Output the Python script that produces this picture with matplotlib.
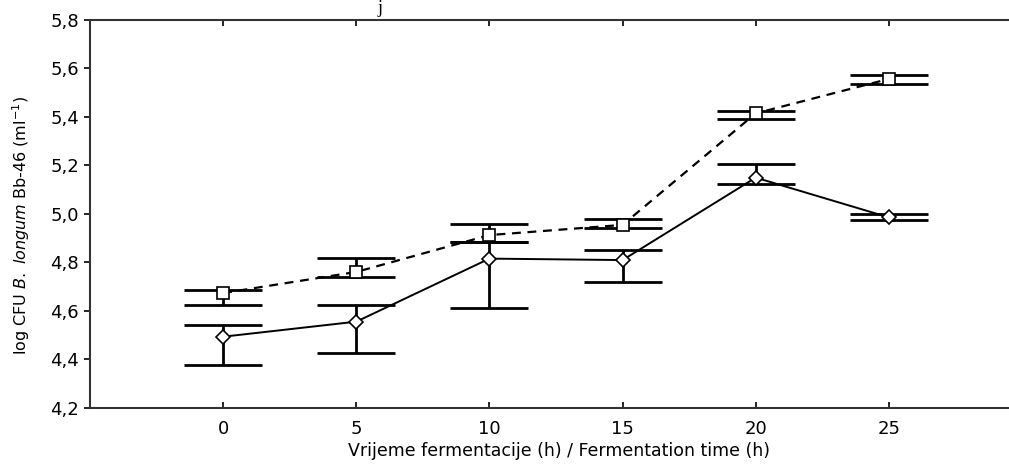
import matplotlib
matplotlib.use('Agg')
import matplotlib.pyplot as plt
import numpy as np

# data
time_h = [0, 5, 10, 15, 20, 25]

# dashed series, open squares
sq_mean = [4.674, 4.761, 4.913, 4.955, 5.415, 5.557]
sq_upper = [4.688, 4.817, 4.960, 4.978, 5.426, 5.572]
sq_lower = [4.625, 4.739, 4.886, 4.944, 5.390, 5.537]

# solid series, open diamonds
dm_mean = [4.494, 4.556, 4.816, 4.810, 5.150, 4.986]
dm_upper = [4.541, 4.623, 4.886, 4.852, 5.205, 5.000]
dm_lower = [4.377, 4.428, 4.611, 4.721, 5.122, 4.975]

yticks = [4.2, 4.4, 4.6, 4.8, 5.0, 5.2, 5.4, 5.6, 5.8]
ytick_labels = ['4,2', '4,4', '4,6', '4,8', '5,0', '5,2', '5,4', '5,6', '5,8']

plt.rcParams['font.family'] = 'DejaVu Sans'
plt.rcParams['mathtext.fontset'] = 'dejavusans'

fig = plt.figure(figsize=(10.09, 4.65), dpi=100)
# right edge of the frame lies just outside the picture
ax = fig.add_axes([0.0892, 0.1226, 0.9237, 0.8344])

sq_err = [np.array(sq_mean) - np.array(sq_lower), np.array(sq_upper) - np.array(sq_mean)]
dm_err = [np.array(dm_mean) - np.array(dm_lower), np.array(dm_upper) - np.array(dm_mean)]

# error bars first, lines and markers on top
ax.errorbar(time_h, sq_mean, yerr=sq_err, fmt='none', ecolor='k',
            elinewidth=2, capsize=28, capthick=2, zorder=2)
ax.errorbar(time_h, dm_mean, yerr=dm_err, fmt='none', ecolor='k',
            elinewidth=2, capsize=28, capthick=2, zorder=2)

ax.plot(time_h, sq_mean, color='k', linestyle=(0, (4, 3)), linewidth=1.6,
        marker='s', markersize=8.5, markerfacecolor='white',
        markeredgecolor='k', markeredgewidth=1.2, zorder=3)
ax.plot(time_h, dm_mean, color='k', linestyle='-', linewidth=1.4,
        marker='D', markersize=7, markerfacecolor='white',
        markeredgecolor='k', markeredgewidth=1.2, zorder=3)

ax.set_xlim(-5, 30)
ax.set_ylim(4.2, 5.8)
ax.set_xticks(time_h)
ax.set_yticks(yticks)
ax.set_yticklabels(ytick_labels)

ax.spines['right'].set_visible(False)
for s in ['left', 'top', 'bottom']:
    ax.spines[s].set_linewidth(1.5)
    ax.spines[s].set_color('#333333')

ax.tick_params(axis='x', direction='in', length=4, width=1.2, top=True,
               labelsize=13, pad=9)
ax.tick_params(axis='y', direction='out', length=4, width=1.2,
               labelsize=13, pad=4)

ax.set_xlabel('Vrijeme fermentacije (h) / Fermentation time (h)', fontsize=12.5)
ax.xaxis.set_label_coords(0.503, -0.088, transform=ax.transAxes)
ax.xaxis.label.set_va('top')
ax.set_ylabel(r'log CFU $\it{B.\ longum}$ Bb-46 (ml$^{-1}$)', fontsize=11.5)
ax.yaxis.set_label_coords(-0.062, 0.47)

# title fragment at the very top
fig.text(0.3766, 0.999, 'j', fontsize=13, family='Liberation Serif',
         ha='center', va='top')

fig.savefig('out.png', dpi=100)
